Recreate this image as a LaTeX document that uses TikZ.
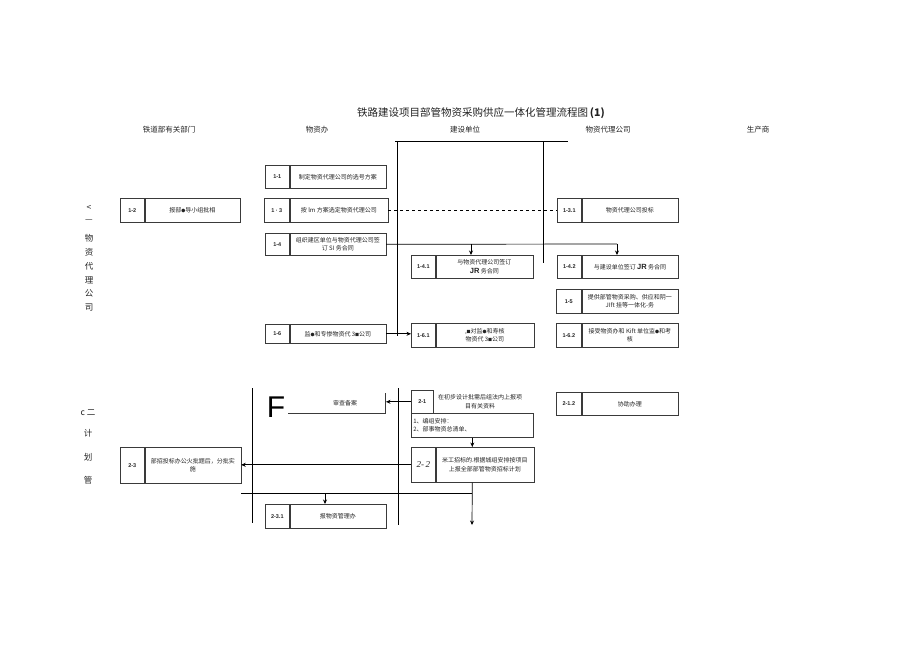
\documentclass[tikz,border=0pt]{standalone}
\usepackage{fontspec}
\setmainfont{Noto Sans CJK SC}
\newfontfamily\labfont{Liberation Sans}
\newfontfamily\seriffont{Liberation Serif}
\usetikzlibrary{positioning,arrows.meta}
\definecolor{boxline}{HTML}{3A3A3A}
\definecolor{inkgray}{HTML}{222222}
\newcommand{\smdot}{{\fontsize{4}{4}\selectfont ●}}
\newcommand{\smsq}{{\fontsize{4}{4}\selectfont ■}}

\tikzset{
  cell/.style={draw=boxline, line width=0.6pt, inner sep=0pt, minimum height=24pt,
    font=\fontsize{6}{8.5}\selectfont, text=inkgray, align=center},
  numcell/.style={cell, minimum width=24pt, font=\labfont\bfseries\fontsize{5.5}{7}\selectfont},
  txtcell/.style={cell, minimum width=96pt},
  flow/.style={draw=black, line width=0.7pt},
  flowarrow/.style={flow, -{Stealth[length=4.5pt,width=4pt]}},
  head/.style={font=\fontsize{7.5}{9}\selectfont, text=inkgray},
  side/.style={font=\fontsize{8.5}{10}\selectfont, text=inkgray}
}

\begin{document}
\begin{tikzpicture}[x=1pt,y=-1pt]

    \useasboundingbox (0,0) rectangle (920,651);

    % Title and column headers
    \node[font=\fontsize{10.5}{12}\selectfont, text=inkgray] (title) at (481,113)
        {铁路建设项目部管物资采购供应一体化管理流程图\,\textbf{(1)}};
    \node[head] (h1) at (169,130) {铁道部有关部门};
    \node[head] (h2) at (317,130) {物资办};
    \node[head] (h3) at (465,130) {建设单位};
    \node[head] (h4) at (608,130) {物资代理公司};
    \node[head] (h5) at (758,130) {生产商};

    % Left side labels, part 1
    \node[side] (s1) at (89,208) {<};
    \node[side] (s2) at (89,221) {—};
    \node[side, align=center, font=\fontsize{8.5}{13.8}\selectfont, anchor=north] (s3) at (89,231)
        {物\\资\\代\\理\\公\\司};

    % Lane lines, part 1
    \draw[flow] (395,141) -- (568,141);
    \draw[flow] (397,141) -- (397,336);
    \draw[flow] (543,141) -- (543,263);

    % Box 1-1
    \node[numcell, minimum height=23pt, anchor=north west] (n11) at (265,165) {1-1};
    \node[txtcell, minimum height=23pt, right=0pt of n11] (b11) {制定物资代理公司的选号方案};

    % Box 1-2
    \node[numcell, anchor=north west] (n12) at (120,198) {1-2};
    \node[txtcell, minimum width=95pt, right=0pt of n12] (b12) {报部\smdot 导小组批相};

    % Box 1-3
    \node[numcell, minimum width=25pt, anchor=north west] (n13) at (264,198) {1 · 3};
    \node[txtcell, minimum width=98pt, right=0pt of n13] (b13) {按 lm 方案选定物资代理公司};

    % Box 1-3.1
    \node[numcell, anchor=north west] (n131) at (557,198) {1-3.1};
    \node[txtcell, right=0pt of n131] (b131) {物资代理公司投标};

    % Box 1-4
    \node[numcell, minimum height=22pt, anchor=north west] (n14) at (265,233) {1-4};
    \node[txtcell, minimum height=22pt, right=0pt of n14] (b14) {组织建区单位与物资代理公司签\\订 SI 务合同};

    % Box 1-4.1
    \node[numcell, minimum height=23pt, anchor=north west] (n141) at (411,255) {1-4.1};
    \node[txtcell, minimum width=97pt, minimum height=23pt, right=0pt of n141] (b141)
        {与物资代理公司签订\\{\labfont\bfseries\fontsize{7.5}{8}\selectfont JR} 务合同};

    % Box 1-4.2
    \node[numcell, minimum height=23pt, anchor=north west] (n142) at (557,255) {1-4.2};
    \node[txtcell, minimum height=23pt, right=0pt of n142] (b142)
        {与建设单位签订 {\labfont\bfseries\fontsize{7.5}{8}\selectfont JR} 务合同};

    % Box 1-5
    \node[numcell, minimum width=25pt, anchor=north west] (n15) at (556,289) {1-5};
    \node[txtcell, right=0pt of n15] (b15) {提供部管物资采购、供应和阴一\\JIft 挂等一体化-务};

    % Box 1-6
    \node[numcell, minimum height=19pt, anchor=north west] (n16) at (265,324) {1-6};
    \node[txtcell, minimum height=19pt, right=0pt of n16] (b16) {监\smdot 和专惨物资代 3\smsq 公司};

    % Box 1-6.1
    \node[numcell, anchor=north west] (n161) at (411,323) {1-6.1};
    \node[txtcell, minimum width=98pt, right=0pt of n161] (b161)
        {,\smsq 对监\smdot 和寿核\\物资代 3\smsq 公司};

    % Box 1-6.2
    \node[numcell, minimum width=25pt, anchor=north west] (n162) at (556,323) {1-6.2};
    \node[txtcell, right=0pt of n162] (b162) {接受物资办和 Kift 单位监\smdot 和考\\核};

    % Connectors, part 1
    \draw[flow, dashed] (b13.east) -- (n131.west);
    \coordinate (j41) at (471,244);
    \coordinate (j42) at (617,244);
    \draw[flow] (b14.east) -- (j42);
    \draw[flowarrow] (j41) -- (j41 |- b141.north);
    \draw[flowarrow] (j42) -- (j42 |- b142.north);
    \draw[flowarrow] (b16.east) -- (b16.east -| n161.west);

    % Left side labels, part 2
    \node[side] (t1) at (88,413) {c 二};
    \node[side] (t2) at (88,433) {计};
    \node[side] (t3) at (88,457) {划};
    \node[side] (t4) at (88,480) {管};

    % Lane lines, part 2
    \draw[flow] (252,388) -- (252,523);
    \draw[flow] (398,388) -- (398,525);

    % Audit note
    \node[font=\labfont\fontsize{30}{30}\selectfont] (bigf) at (276,407) {F};
    \node[font=\fontsize{6}{8}\selectfont, text=inkgray] (audit) at (345,403) {审查备案};
    \coordinate (auditend) at (386,403);
    \draw[boxline, line width=0.5pt] (288,413) -- (385,413) -- (385,393);

    % Box 2-1 and its list
    \node[numcell, minimum width=22pt, minimum height=23pt, anchor=north west] (n21) at (411,390) {2-1};
    \node[font=\fontsize{6}{8.5}\selectfont, text=inkgray, align=center, right=1pt of n21] (t21)
        {在初步设计批需后组法内上报项\\目有关资料};
    \node[cell, anchor=north west, minimum width=122pt, text width=118pt, inner xsep=2pt,
        align=left] (l21) at (411,413) {1、编组安排：\\2、部事物资总清单、};

    % Box 2-1.2
    \node[numcell, minimum width=25pt, minimum height=23pt, anchor=north west] (n212) at (556,392) {2-1.2};
    \node[txtcell, minimum height=23pt, right=0pt of n212] (b212) {协助办理};

    % Box 2-2
    \node[numcell, minimum height=35pt, font=\seriffont\itshape\fontsize{9}{10}\selectfont,
        anchor=north west] (n22) at (411,447) {2-\,2};
    \node[txtcell, minimum width=98pt, minimum height=35pt, right=0pt of n22] (b22)
        {米工招标的.根据城组安排按项目\\上报全部部管物资招标计划};

    % Box 2-3
    \node[numcell, minimum height=36pt, anchor=north west] (n23) at (120,447) {2-3};
    \node[txtcell, minimum height=36pt, right=0pt of n23] (b23) {部招投标办公火批题后，分批实\\施};

    % Box 2-3.1
    \node[numcell, anchor=north west] (n231) at (265,504) {2-3.1};
    \node[txtcell, right=0pt of n231] (b231) {报物资管理办};

    % Connectors, part 2
    \draw[flowarrow] (n21.west) -- (n21.west -| auditend);
    \draw[flowarrow] (l21.south) -- (l21.south |- n22.north);
    \draw[flowarrow] (n22.west) -- (n22.west -| b23.east);
    \coordinate (j22) at (472,493);
    \coordinate (j23) at (241,493);
    \coordinate (j231) at (325,493);
    \coordinate (drop) at (472,525);
    \draw[flowarrow] (l21.south |- b22.south) -- (drop);
    \draw[flow] (j22) -- (j23);
    \draw[flowarrow] (j231) -- (j231 |- b231.north);

\end{tikzpicture}
\end{document}
